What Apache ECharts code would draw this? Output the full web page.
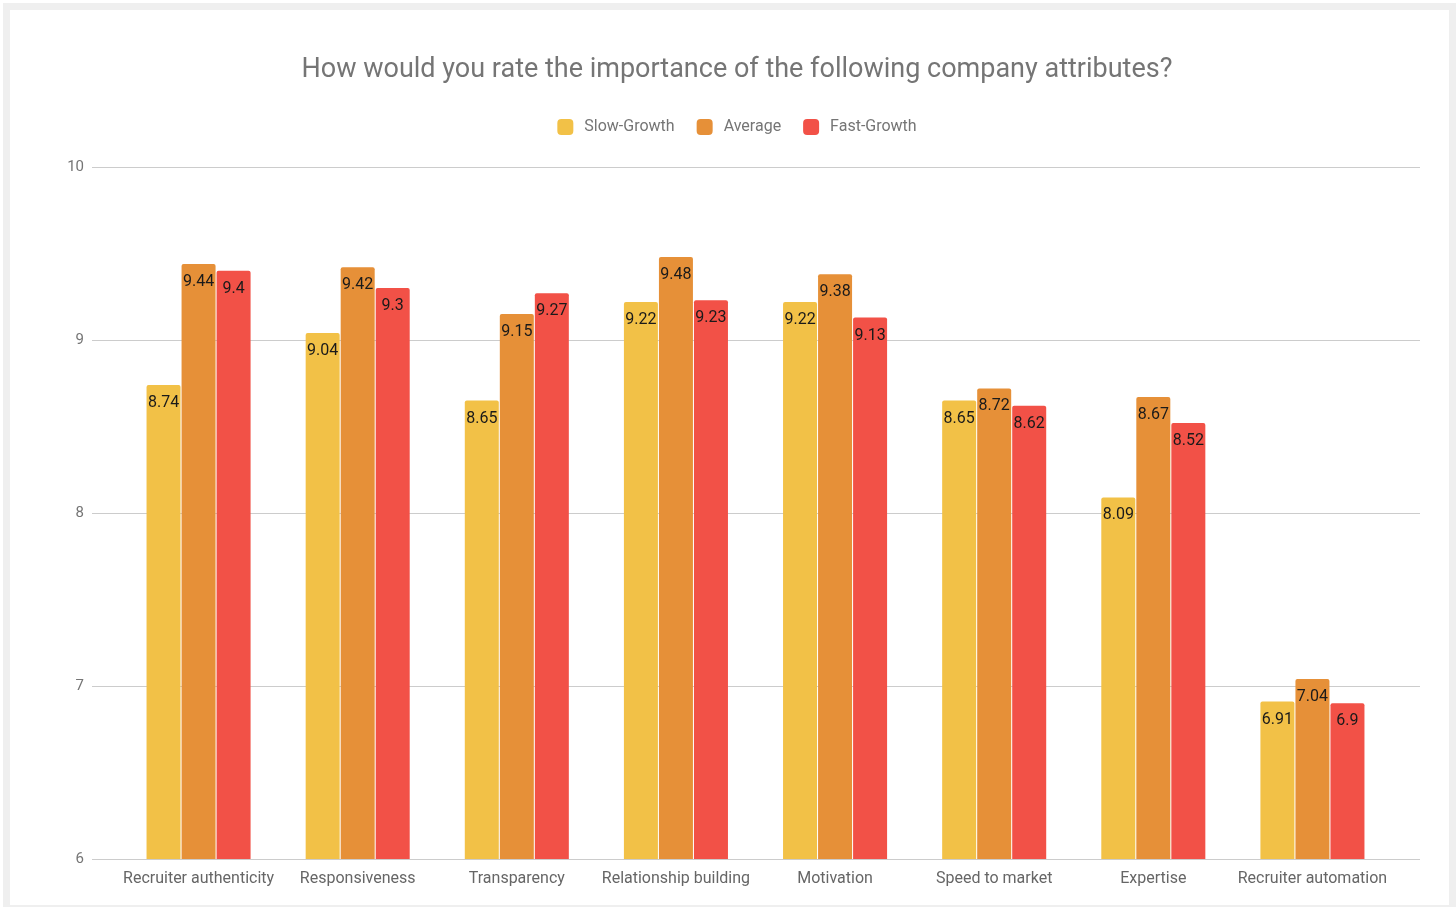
<!DOCTYPE html>
<html>
<head>
<meta charset="utf-8">
<script src="https://cdn.jsdelivr.net/npm/echarts@6/dist/echarts.min.js"></script>
<style>
  html, body { margin: 0; padding: 0; background: #fff; width: 1456px; height: 907px; overflow: hidden; }
  #frame { position: absolute; left: 3px; top: 3px; width: 1439px; height: 895px; border: 7px solid #efefef; border-bottom-width: 2px; }
  #chart { position: absolute; left: 18px; top: 0; width: 1438px; height: 907px; }
</style>
</head>
<body>
<div id="frame"></div>
<div id="chart"></div>
<script>
// Survey ratings of company attributes by company growth segment
const categories = ['Recruiter authenticity', 'Responsiveness', 'Transparency', 'Relationship building',
  'Motivation', 'Speed to market', 'Expertise', 'Recruiter automation'];
const slowGrowth = [8.74, 9.04, 8.65, 9.22, 9.22, 8.65, 8.09, 6.91];
const average    = [9.44, 9.42, 9.15, 9.48, 9.38, 8.72, 8.67, 7.04];
const fastGrowth = [9.4, 9.3, 9.27, 9.23, 9.13, 8.62, 8.52, 6.9];
const seriesNames = ['Slow-Growth', 'Average', 'Fast-Growth'];
const colors = ['#f2c147', '#e69038', '#f25147'];

const chart = echarts.init(document.getElementById('chart'), null, { renderer: 'canvas' });

const labelStyle = {
  show: true,
  position: 'insideTop',
  distance: 10,
  color: '#1a1a1a',
  fontSize: 16,
  fontFamily: 'Roboto'
};

function barSeries(name, data, color) {
  return {
    name: name,
    type: 'bar',
    xAxisIndex: 1,
    yAxisIndex: 1,
    data: data,
    barWidth: 34,
    barGap: '3%',
    itemStyle: { color: color, borderRadius: [2, 2, 0, 0] },
    label: labelStyle
  };
}

chart.setOption({
  animation: false,
  textStyle: { fontFamily: 'Roboto' },
  title: {
    text: 'How would you rate the importance of the following company attributes?',
    left: 'center',
    top: 52,
    textStyle: { color: '#757575', fontSize: 27, fontWeight: 'normal', fontFamily: 'Roboto' }
  },
  legend: {
    top: 114,
    left: 'center',
    itemWidth: 16,
    itemHeight: 16,
    itemGap: 22,
    icon: 'roundRect',
    textStyle: { color: '#757575', fontSize: 16, padding: [0, 0, 0, 6], fontFamily: 'Roboto' },
    data: seriesNames
  },
  grid: [
    // full-width grid carrying the value gridlines and tick labels
    { left: 74, right: 36, top: 167, bottom: 48 },
    // inner grid holding the category bands and bars
    { left: 101, right: 64, top: 167, bottom: 48 }
  ],
  xAxis: [
    { type: 'category', gridIndex: 0, data: categories, show: false },
    {
      type: 'category',
      gridIndex: 1,
      data: categories,
      axisLine: { show: false },
      axisTick: { show: false },
      axisLabel: { color: '#666', fontSize: 16, margin: 12, fontFamily: 'Roboto', interval: 0 }
    }
  ],
  yAxis: [
    {
      type: 'value',
      gridIndex: 0,
      min: 6,
      max: 10,
      interval: 1,
      axisLine: { show: false },
      axisTick: { show: false },
      axisLabel: { color: '#757575', fontSize: 15, margin: 8, fontFamily: 'Roboto' },
      splitLine: { lineStyle: { color: '#cccccc', width: 1 } }
    },
    {
      type: 'value',
      gridIndex: 1,
      min: 6,
      max: 10,
      interval: 1,
      show: false,
      splitLine: { show: false }
    }
  ],
  series: [
    barSeries(seriesNames[0], slowGrowth, colors[0]),
    barSeries(seriesNames[1], average, colors[1]),
    barSeries(seriesNames[2], fastGrowth, colors[2])
  ]
});
</script>
</body>
</html>
